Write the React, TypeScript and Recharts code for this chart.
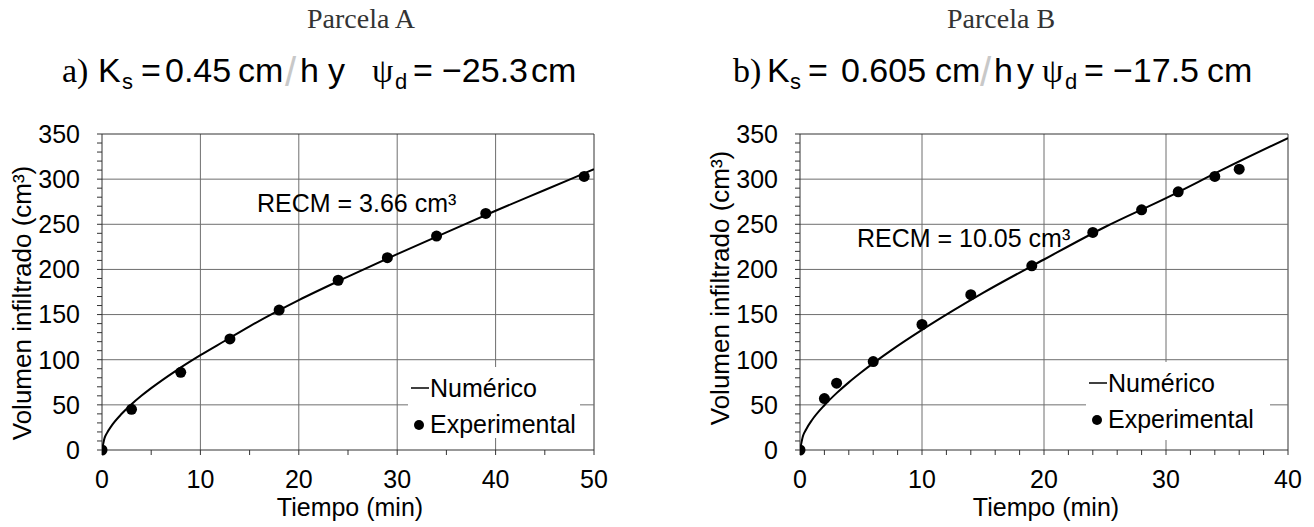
import React from "react";
import { ComposedChart, Line, Scatter, XAxis, YAxis, ReferenceLine, Legend } from "recharts";

const SANS = "'Liberation Sans', Arial, sans-serif";
const SERIF = "'Liberation Serif', 'Times New Roman', serif";

// Parcela A
const tNumA = [0, 0.25, 0.5, 1, 2, 3, 4, 5, 7.5, 10, 12.5, 15, 20, 25, 30, 35, 40, 45, 50];
const vNumA = [0, 12.9, 18.7, 27.3, 40.1, 50.7, 60, 68.5, 87.7, 105, 121, 137, 166, 192, 217, 241, 265, 288, 311];
const tExpA = [0, 3, 8, 13, 18, 24, 29, 34, 39, 49];
const vExpA = [0, 45, 86, 123, 155, 188, 213, 237, 262, 303];

// Parcela B
const tNumB = [0, 0.25, 0.5, 1, 2, 3, 4, 5, 7.5, 10, 12.5, 15, 20, 25, 30, 35, 40];
const vNumB = [0, 15.7, 22.8, 33.5, 49.6, 63, 74.9, 85.8, 110.6, 133, 154, 174, 211, 247, 279, 313, 345.5];
const tExpB = [0, 2, 3, 6, 10, 14, 19, 24, 28, 31, 34, 36];
const vExpB = [0, 57, 74, 98, 139, 172, 204, 241, 266, 286, 303, 311];

// ticks
const xMinorA = [0, 5, 10, 15, 20, 25, 30, 35, 40, 45, 50];
const xMajorA = [0, 10, 20, 30, 40, 50];
const xMinorB = [0, 2, 4, 6, 8, 10, 12, 14, 16, 18, 20, 22, 24, 26, 28, 30, 32, 34, 36, 38, 40];
const xMajorB = [0, 10, 20, 30, 40];
const yMinor = [0, 10, 20, 30, 40, 50, 60, 70, 80, 90, 100, 110, 120, 130, 140, 150, 160, 170, 180, 190,
  200, 210, 220, 230, 240, 250, 260, 270, 280, 290, 300, 310, 320, 330, 340, 350];
const yMajor = [0, 50, 100, 150, 200, 250, 300, 350];

const toPts = (ts: number[], vs: number[]) => ts.map((t, i) => ({ t, v: vs[i] }));

type PanelProps = {
  left: number;
  width: number;
  margin: { top: number; right: number; bottom: number; left: number };
  num: { t: number; v: number }[];
  exp: { t: number; v: number }[];
  xMax: number;
  xMinor: number[];
  xMajor: number[];
  yLabelDy: number;
  legendBox: { left: number; top: number; width: number; height: number };
};

function Panel(p: PanelProps) {
  const axisColor = "#333";
  const gridColor = "#6e6e6e";
  const tickStyle = { fontSize: 25, fill: "#000", fontFamily: SANS };
  return (
    <div style={{ position: "absolute", left: p.left, top: 0 }}>
      <ComposedChart width={p.width} height={527} margin={p.margin}>
        {p.xMajor.filter((v) => v > 0).map((v) => (
          <ReferenceLine key={"x" + v} x={v} stroke={v === p.xMax ? axisColor : gridColor} strokeWidth={1} />
        ))}
        {yMajor.filter((v) => v > 0).map((v) => (
          <ReferenceLine key={"y" + v} y={v} stroke={v === 350 ? axisColor : gridColor} strokeWidth={1} />
        ))}
        <XAxis
          type="number"
          dataKey="t"
          domain={[0, p.xMax]}
          ticks={p.xMinor}
          interval={0}
          allowDataOverflow
          tickFormatter={(v: number) => (p.xMajor.includes(v) ? String(v) : "")}
          tickSize={5}
          tickMargin={15}
          tick={tickStyle}
          stroke={axisColor}
          height={45}
          label={(lp: any) => {
            const vb = lp.viewBox;
            return (
              <text x={vb.x + vb.width / 2 + 2} y={vb.y + 66} textAnchor="middle" fontSize={25} fontFamily={SANS} fill="#000">
                Tiempo (min)
              </text>
            );
          }}
        />
        <YAxis
          type="number"
          domain={[0, 350]}
          ticks={yMinor}
          interval={0}
          tickFormatter={(v: number) => (yMajor.includes(v) ? String(v) : "")}
          tickSize={5}
          tickMargin={17}
          tick={tickStyle}
          stroke={axisColor}
          width={60}
          label={(lp: any) => {
            const vb = lp.viewBox;
            const cx = vb.x + vb.width - 80;
            const cy = vb.y + vb.height / 2 + p.yLabelDy;
            return (
              <text
                x={cx}
                y={cy}
                transform={`rotate(-90 ${cx} ${cy})`}
                textAnchor="middle"
                dominantBaseline="central"
                fontSize={26}
                fontFamily={SANS}
                fill="#000"
              >
                Volumen infiltrado (cm³)
              </text>
            );
          }}
        />
        <Line
          data={p.num}
          dataKey="v"
          name="Numérico"
          type="monotone"
          stroke="#000"
          strokeWidth={2}
          dot={false}
          isAnimationActive={false}
        />
        <Scatter
          data={p.exp}
          dataKey="v"
          name="Experimental"
          fill="#000"
          isAnimationActive={false}
          shape={(s: any) => <circle cx={s.cx} cy={s.cy} r={5.5} fill="#000" />}
        />
        <Legend
          layout="horizontal"
          verticalAlign="middle"
          align="center"
          wrapperStyle={{
            left: p.legendBox.left,
            top: p.legendBox.top,
            width: p.legendBox.width,
            height: p.legendBox.height,
            background: "#fff",
          }}
          content={() => (
            <svg width={p.legendBox.width} height={p.legendBox.height} style={{ display: "block" }}>
              <line x1={3} x2={21} y1={21} y2={21} stroke="#000" strokeWidth={1.5} />
              <text x={22} y={30} fontSize={25} fontFamily={SANS} fill="#000">Numérico</text>
              <circle cx={11} cy={58} r={5} fill="#000" />
              <text x={22} y={66} fontSize={25} fontFamily={SANS} fill="#000">Experimental</text>
            </svg>
          )}
        />
      </ComposedChart>
    </div>
  );
}

function TitleLine(props: { x: number[]; tag: string; ks: string; psi: string }) {
  const x = props.x;
  const base = 82;
  const sub = 89;
  const fs = 34;
  return (
    <g fontFamily={SANS} fontSize={fs} fill="#000">
      <text x={x[0]} y={base} fontFamily={SERIF}>{props.tag}</text>
      <text x={x[1]} y={base}>K</text>
      <text x={x[2]} y={sub} fontSize={22}>s</text>
      <text x={x[3]} y={base}>=</text>
      <text x={x[4]} y={base}>{props.ks}</text>
      <text x={x[5]} y={base}>cm</text>
      <text x={x[6]} y={base + 4} fill="#c8c8c8" fontSize={40}>/</text>
      <text x={x[7]} y={base}>h</text>
      <text x={x[8]} y={base}>y</text>
      <text x={x[9]} y={base} fontFamily={SERIF}>ψ</text>
      <text x={x[10]} y={sub} fontSize={22}>d</text>
      <text x={x[11]} y={base}>=</text>
      <text x={x[12]} y={base}>{props.psi}</text>
      <text x={x[13]} y={base}>cm</text>
    </g>
  );
}

export default function App() {
  return (
    <div style={{ position: "absolute", left: 0, top: 0, width: 1314, height: 527, background: "#fff", fontFamily: SANS }}>
      <Panel
        left={0}
        width={660}
        margin={{ top: 134, right: 66, bottom: 32, left: 42 }}
        num={toPts(tNumA, vNumA)}
        exp={toPts(tExpA, vExpA)}
        xMax={50}
        xMinor={xMinorA}
        xMajor={xMajorA}
        yLabelDy={11}
        legendBox={{ left: 408, top: 367, width: 172, height: 71 }}
      />
      <Panel
        left={660}
        width={654}
        margin={{ top: 134, right: 26, bottom: 32, left: 80 }}
        num={toPts(tNumB, vNumB)}
        exp={toPts(tExpB, vExpB)}
        xMax={40}
        xMinor={xMinorB}
        xMajor={xMajorB}
        yLabelDy={-4}
        legendBox={{ left: 426, top: 362, width: 184, height: 78 }}
      />
      <svg width={1314} height={527} style={{ position: "absolute", left: 0, top: 0, pointerEvents: "none" }}>
        <text x={307} y={28} fontFamily={SERIF} fontSize={28} fill="#333">Parcela A</text>
        <text x={947} y={28} fontFamily={SERIF} fontSize={28} fill="#333">Parcela B</text>
        <TitleLine x={[62, 98, 122, 141, 165, 238, 285, 300, 328, 372, 395, 413, 442, 531]} tag="a)" ks="0.45" psi="−25.3" />
        <TitleLine x={[733, 767, 790, 808, 841, 935, 980, 994, 1017, 1042, 1065, 1084, 1113, 1207]} tag="b)" ks="0.605" psi="−17.5" />
        <text x={257} y={212} fontFamily={SANS} fontSize={25} fill="#000">RECM = 3.66 cm³</text>
        <text x={857} y={247} fontFamily={SANS} fontSize={25} fill="#000">RECM = 10.05 cm³</text>
      </svg>
    </div>
  );
}
